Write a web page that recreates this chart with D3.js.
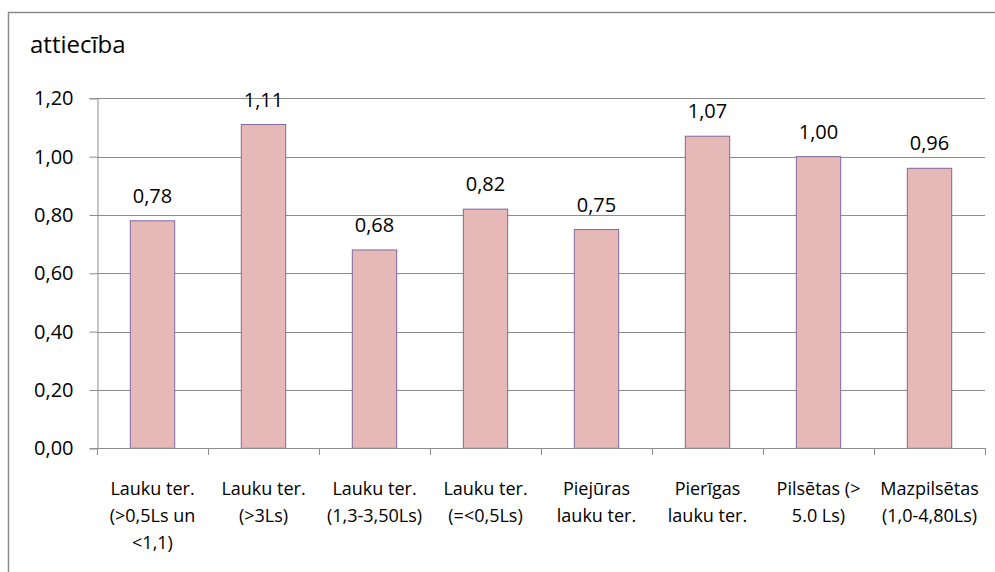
<!DOCTYPE html>
<html>
<head>
<meta charset="utf-8">
<script src="https://cdn.jsdelivr.net/npm/d3@7/dist/d3.min.js"></script>
<style>
  html, body { margin: 0; padding: 0; background: #fff; }
  svg { display: block; font-family: "Open Sans", "Noto Sans", sans-serif; }
</style>
</head>
<body>
<svg id="chart" width="995" height="572"></svg>
<script>
// Category labels (line-broken as drawn under the axis)
const categories = [
  ["Lauku ter.", "(>0,5Ls un", "<1,1)"],
  ["Lauku ter.", "(>3Ls)"],
  ["Lauku ter.", "(1,3-3,50Ls)"],
  ["Lauku ter.", "(=<0,5Ls)"],
  ["Piejūras", "lauku ter."],
  ["Pierīgas", "lauku ter."],
  ["Pilsētas (>", "5.0 Ls)"],
  ["Mazpilsētas", "(1,0-4,80Ls)"]
];
// Ratio per territory type
const values = [0.78, 1.11, 0.68, 0.82, 0.75, 1.07, 1.00, 0.96];
const yTicks = [0, 0.2, 0.4, 0.6, 0.8, 1.0, 1.2];
const yTitle = "attiecība";

const svg = d3.select("#chart");
const plotLeft = 97, plotRight = 985, plotTop = 98.3, plotBottom = 448.3;

const fmt = v => d3.format(".2f")(v).replace(".", ",");

const idx = d3.range(categories.length);
const x = d3.scaleBand().domain(idx).range([plotLeft, plotRight]).paddingInner(0.6).paddingOuter(0.3);
const y = d3.scaleLinear().domain([0, 1.2]).range([plotBottom, plotTop]);
const step = x.step();

// Outer frame (left and top edges)
svg.append("path")
  .attr("d", `M8.5,572 V12.5 H995`)
  .attr("fill", "none").attr("stroke", "#8a8a8a").attr("stroke-width", 1.5);

// Title
svg.append("text").attr("x", 30).attr("y", 53)
  .attr("font-size", 24).attr("fill", "#000").text(yTitle);

// Gridlines
svg.append("g").selectAll("line").data(yTicks.filter(d => d > 0)).join("line")
  .attr("x1", plotLeft).attr("x2", plotRight)
  .attr("y1", d => Math.round(y(d)) + 0.5).attr("y2", d => Math.round(y(d)) + 0.5)
  .attr("stroke", "#8c8c8c").attr("stroke-width", 1);

// Y axis
const yAxis = d3.axisLeft(y).tickValues(yTicks).tickSize(8).tickPadding(16).tickFormat(fmt);
const gy = svg.append("g").attr("transform", `translate(${plotLeft + 0.5},0)`).call(yAxis);
gy.select(".domain").attr("stroke", "#8c8c8c");
gy.selectAll(".tick line").attr("stroke", "#8c8c8c");
gy.selectAll(".tick text").attr("font-size", 20).attr("fill", "#000")
  .attr("font-family", "Open Sans, sans-serif");

// Bars
svg.append("g").selectAll("rect").data(values).join("rect")
  .attr("x", (d, i) => x(i))
  .attr("width", x.bandwidth())
  .attr("y", d => y(d))
  .attr("height", d => y(0) - y(d))
  .attr("fill", "#e6b9b8")
  .attr("stroke", "#7e6a9c").attr("stroke-width", 1);

// X axis baseline and category boundary ticks
const gx = svg.append("g");
gx.append("line").attr("x1", plotLeft).attr("x2", plotRight)
  .attr("y1", Math.round(y(0)) + 0.5).attr("y2", Math.round(y(0)) + 0.5)
  .attr("stroke", "#8c8c8c");
gx.selectAll("line.tk").data(d3.range(categories.length + 1)).join("line")
  .attr("class", "tk")
  .attr("x1", i => Math.round(plotLeft + i * step) + 0.5).attr("x2", i => Math.round(plotLeft + i * step) + 0.5)
  .attr("y1", Math.round(y(0))).attr("y2", Math.round(y(0)) + 7)
  .attr("stroke", "#8c8c8c");

// Category labels
const cl = svg.append("g").selectAll("text").data(categories).join("text")
  .attr("text-anchor", "middle").attr("font-size", 18).attr("fill", "#000")
  .attr("transform", (d, i) => `translate(${x(i) + x.bandwidth() / 2},495)`);
cl.selectAll("tspan").data(d => d).join("tspan")
  .attr("x", 0).attr("y", (d, j) => j * 27).text(d => d);

// Value labels
svg.append("g").selectAll("text").data(values).join("text")
  .attr("text-anchor", "middle").attr("font-size", 20).attr("fill", "#000")
  .attr("x", (d, i) => x(i) + x.bandwidth() / 2)
  .attr("y", d => y(d) - 18)
  .text(d => fmt(d));
</script>
</body>
</html>
